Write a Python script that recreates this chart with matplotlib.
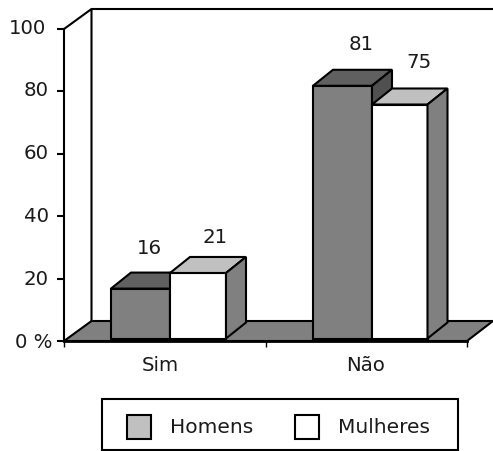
import matplotlib
matplotlib.use("Agg")
import matplotlib.pyplot as plt
from matplotlib.patches import Polygon, Patch, Rectangle
from matplotlib.transforms import ScaledTranslation

categories = ["Sim", "Não"]
series_names = ["Homens", "Mulheres"]
homens = [16, 81]
mulheres = [21, 75]
y_ticks = [0, 20, 40, 60, 80, 100]
y_tick_labels = ["0 %", "20", "40", "60", "80", "100"]

plt.rcParams["font.family"] = ["DejaVu Sans"]
W, H = 493, 452
FS = 14.2
TXT = "#1a1a1a"
fig = plt.figure(figsize=(W / 100, H / 100), dpi=100, facecolor="white")
ax = fig.add_axes([64 / W, 1 - 342 / H, (467 - 64) / W, (342 - 30) / H])
ax.set_xlim(0, 2)
ax.set_ylim(0, 100)
ax.patch.set_visible(False)

PXX = 2 / (467 - 64)   # x data units per pixel
PXY = 100 / (342 - 30) # y data units per pixel
LW = 1.5

# floor and back wall
fdx, fdy = 27.5 * PXX, 20 * PXY
ax.add_patch(Polygon([(0, 0), (fdx, fdy), (2 + 26 * PXX, fdy), (2, 0)], closed=True,
                     facecolor="#808080", edgecolor="black", lw=LW, clip_on=False, zorder=1))
ax.plot([0, fdx, fdx], [100, 100 + fdy, fdy], color="black", lw=LW, clip_on=False, zorder=1.5)
ax.plot([fdx, 2 + 26 * PXX], [100 + fdy, 100 + fdy], color="black", lw=LW, clip_on=False, zorder=1.5)

# bars
bdx, bdy = 20 * PXX, 16 * PXY
base = 2.5 * PXY
starts = [[111, 313], [170, 372]]
widths = [[59, 59], [56, 55.5]]
styles = [("#808080", "#606060", "#505050"), ("#FFFFFF", "#C0C0C0", "#808080")]
for s, vals in enumerate([homens, mulheres]):
    front, top, side = styles[s]
    for i, v in enumerate(vals):
        x0 = (starts[s][i] - 64) * PXX
        w = widths[s][i] * PXX
        y1 = base + v
        kw = dict(edgecolor="black", lw=LW, clip_on=False, zorder=2 + s, joinstyle="miter")
        ax.bar(x0, v, width=w, bottom=base, align="edge", color=front, **kw)
        ax.add_patch(Polygon([(x0, y1), (x0 + bdx, y1 + bdy), (x0 + w + bdx, y1 + bdy), (x0 + w, y1)],
                             closed=True, facecolor=top, **kw))
        ax.add_patch(Polygon([(x0 + w, base), (x0 + w + bdx, base + bdy), (x0 + w + bdx, y1 + bdy), (x0 + w, y1)],
                             closed=True, facecolor=side, **kw))

# value labels
off_x = [[8.5, 18.5], [17, 19]]
off_y = [[41, 42], [36.6, 43]]
for s, vals in enumerate([homens, mulheres]):
    for i, v in enumerate(vals):
        x0 = (starts[s][i] - 64 + widths[s][i] / 2) * PXX
        ax.annotate(str(v), (x0, base + v),
                    xytext=(off_x[s][i] * 0.72, off_y[s][i] * 0.72), textcoords="offset points",
                    ha="center", va="center", fontsize=FS, color=TXT, zorder=5, annotation_clip=False)

# axes
for sp in ("top", "right"):
    ax.spines[sp].set_visible(False)
ax.spines["left"].set_linewidth(LW)
ax.spines["bottom"].set_linewidth(2)
for sp in ("left", "bottom"):
    ax.spines[sp].set_zorder(6)
ax.set_yticks(y_ticks)
ax.set_yticklabels(y_tick_labels, fontsize=FS, color=TXT)
ax.tick_params(axis="y", length=5, width=LW, pad=6)
ax.set_xticks([0, 1, 2])
ax.set_xticklabels(["", "", ""])
ax.tick_params(axis="x", length=4.5, width=1.0)
cat_px = [160, 366]
for i, c in enumerate(categories):
    ax.annotate(c, ((cat_px[i] - 64) * PXX, 0), xytext=(0, -24 * 0.72), textcoords="offset points",
                ha="center", va="center", fontsize=FS, color=TXT, annotation_clip=False)
label_dx = [3.5, 0, 0, 0, 0, -3]
label_dy = [1.5, 2, 2.5, 3, 3.5, 3.5]
for lab, dx, dy in zip(ax.get_yticklabels(), label_dx, label_dy):
    lab.set_transform(lab.get_transform() + ScaledTranslation(dx / 100, dy / 100, fig.dpi_scale_trans))

# legend
fig.add_artist(Rectangle((102 / W, 1 - 451 / H), (458 - 102) / W, 51 / H, transform=fig.transFigure,
                         facecolor="white", edgecolor="black", lw=LW))
handles = [Patch(facecolor="#C0C0C0", edgecolor="black", lw=LW),
           Patch(facecolor="#FFFFFF", edgecolor="black", lw=LW)]
leg = fig.legend(handles, series_names, ncol=2, loc="center left",
                 bbox_to_anchor=(127 / W, 1 - 428 / H), bbox_transform=fig.transFigure,
                 fontsize=14.5, frameon=False, borderaxespad=0, borderpad=0,
                 handlelength=1.18, handleheight=1.5, handletextpad=0.95,
                 columnspacing=2.1, labelcolor=TXT)
for t in leg.get_texts():
    t.set_position((0, 2))

fig.savefig("out.png", dpi=100, facecolor="white")
